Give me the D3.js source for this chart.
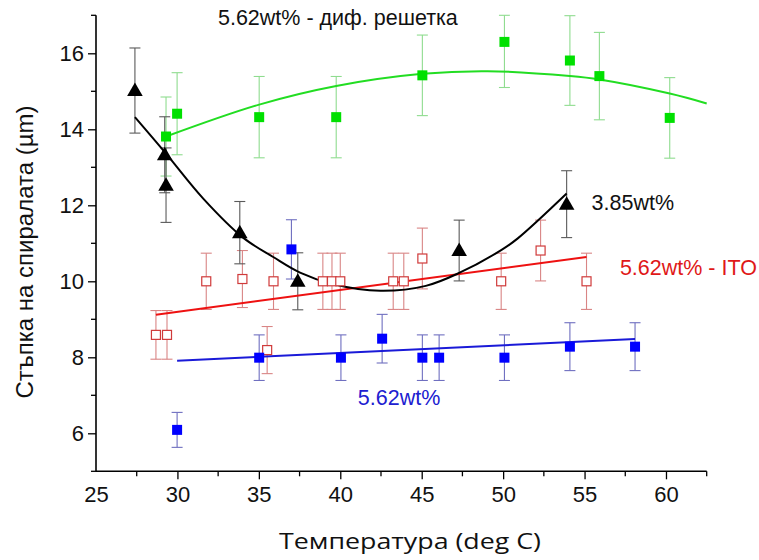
<!DOCTYPE html>
<html><head><meta charset="utf-8">
<script src="https://cdn.jsdelivr.net/npm/d3@7"></script>
<style>body{margin:0;background:#fff}</style>
</head><body>
<svg id="c" width="759" height="560"></svg>
<script>
// Data
const greenX   = [29.3, 29.98, 35.02, 39.75, 45.04, 50.08, 54.1, 55.91, 60.23];
const greenY   = [13.81, 14.41, 14.32, 14.32, 15.42, 16.30, 15.81, 15.40, 14.30];
const greenErr = [1.04, 1.08, 1.07, 1.07, 1.06, 1.2, 1.18, 1.15, 1.06];

const blackX   = [27.39, 29.22, 29.3, 33.83, 37.39, 47.3, 53.9];
const blackY   = [15.02, 13.33, 12.53, 11.28, 10.0, 10.81, 12.03];
const blackErr = [1.12, 1.0, 0.98, 0.82, 0.75, 0.8, 0.88];

const blueX    = [29.98, 35.02, 37.0, 40.04, 42.57, 45.04, 46.07, 50.08, 54.1, 58.1];
const blueY    = [6.09, 7.99, 10.84, 7.99, 8.49, 7.99, 7.99, 7.99, 8.28, 8.28];
const blueErr  = [0.46, 0.6, 0.78, 0.6, 0.64, 0.6, 0.6, 0.6, 0.63, 0.63];

const redX     = [28.68, 29.36, 31.77, 33.99, 35.51, 35.9, 38.93, 39.49, 40.0, 43.25, 43.9, 45.04, 49.88, 52.3, 55.12];
const redY     = [8.59, 8.59, 10.0, 10.06, 8.19, 10.0, 10.0, 10.0, 10.0, 10.0, 10.0, 10.6, 10.0, 10.81, 10.0];
const redErr   = [0.64, 0.64, 0.74, 0.75, 0.62, 0.74, 0.74, 0.74, 0.74, 0.74, 0.74, 0.8, 0.74, 0.8, 0.74];

// Fit curves, points
const blackFit = [[27.39,14.32],[29.3,13.36],[31.6,12.17],[34.03,11.15],[35.88,10.64],[37.53,10.23],[39.59,9.92],[42.47,9.75],[45.25,9.88],[47.3,10.22],[49.88,10.82],[50.9,11.13],[53.9,12.31]];
const greenFit = [[29.3,13.81],[35.02,14.65],[39.75,15.14],[45.04,15.46],[49.05,15.53],[54.1,15.40],[55.91,15.31],[60.23,14.94],[62.5,14.68]];
const redFit   = [[28.68,9.12],[55.12,10.64]];
const blueFit  = [[29.98,7.91],[58.1,8.48]];

const xTicks = [25, 30, 35, 40, 45, 50, 55, 60];
const yTicks = [6, 8, 10, 12, 14, 16];

const labels = [
  {text: "5.62wt% - диф. решетка", x: 32.49, y: 16.74, color: "#111"},
  {text: "3.85wt%", x: 55.43, y: 11.87, color: "#111"},
  {text: "5.62wt% - ITO", x: 57.17, y: 10.17, color: "#e01818"},
  {text: "5.62wt%", x: 41.08, y: 6.75, color: "#2020d0"}
];

const svg = d3.select("#c");
const x = d3.scaleLinear().domain([25, 62.5]).range([96, 706.7]);
const y = d3.scaleLinear().domain([5, 17]).range([471.3, 15.3]);

const font = "'Liberation Sans', Arial, sans-serif";

// Axes
const xAxis = d3.axisBottom(x).tickValues(xTicks).tickSize(8).tickFormat(d3.format("d"));
const gx = svg.append("g").attr("transform", `translate(0,${y(5)})`).call(xAxis);
gx.selectAll(".tick").filter(d => d === 25).select("line").remove();
const xMinor = d3.range(27.5, 62.6, 5);
gx.selectAll(".minor").data(xMinor).enter().append("line")
  .attr("x1", d => x(d)).attr("x2", d => x(d)).attr("y1", 0).attr("y2", 5)
  .attr("stroke", "#000").attr("stroke-width", 1.3);

const yAxis = d3.axisLeft(y).tickValues(yTicks).tickSize(8).tickFormat(d3.format("d"));
const gy = svg.append("g").attr("transform", `translate(${x(25)},0)`).call(yAxis);
const yMinor = [5, 7, 9, 11, 13, 15, 17];
gy.selectAll(".minor").data(yMinor).enter().append("line")
  .attr("x1", -5).attr("x2", 0).attr("y1", d => y(d)).attr("y2", d => y(d))
  .attr("stroke", "#000").attr("stroke-width", 1.3);

[gx, gy].forEach(g => {
  g.selectAll(".tick line").attr("stroke-width", 1.3);
  g.selectAll("text").attr("font-family", font).attr("font-size", 22).attr("fill", "#111");
});
gx.select(".domain").remove();
gy.select(".domain").remove();
svg.append("line").attr("x1", x(25)).attr("x2", x(62.5)).attr("y1", y(5)).attr("y2", y(5))
  .attr("stroke", "#000").attr("stroke-width", 1.6);
svg.append("line").attr("x1", x(25)).attr("x2", x(25)).attr("y1", y(5)).attr("y2", y(17))
  .attr("stroke", "#000").attr("stroke-width", 1.6);
gx.selectAll(".tick text").attr("dy", "0.95em").attr("y", 10);
gy.selectAll(".tick text").attr("x", -12);

// Axis titles
svg.append("text").attr("x", 410).attr("y", 549).attr("text-anchor", "middle")
  .attr("font-family", "'Open Sans', 'Noto Sans', sans-serif").attr("font-size", 22)
  .attr("fill", "#111").attr("textLength", 262).attr("lengthAdjust", "spacingAndGlyphs")
  .text("Температура (deg C)");
svg.append("text").attr("transform", "translate(33,252) rotate(-90)").attr("text-anchor", "middle")
  .attr("font-family", font).attr("font-size", 24).attr("fill", "#111")
  .text("Стъпка на спиралата (µm)");

const plot = svg.append("g");
const cap = 5.5;

function errBars(xs, ys, es, color) {
  const g = plot.append("g").attr("stroke", color).attr("stroke-width", 1.1).attr("fill", "none");
  xs.forEach((xv, i) => {
    const lo = Math.max(5, ys[i] - es[i]), hi = Math.min(17, ys[i] + es[i]);
    g.append("line").attr("x1", x(xv)).attr("x2", x(xv)).attr("y1", y(lo)).attr("y2", y(hi));
    g.append("line").attr("x1", x(xv) - cap).attr("x2", x(xv) + cap).attr("y1", y(lo)).attr("y2", y(lo));
    g.append("line").attr("x1", x(xv) - cap).attr("x2", x(xv) + cap).attr("y1", y(hi)).attr("y2", y(hi));
  });
}
errBars(greenX, greenY, greenErr, "#8fdc8f");
errBars(redX, redY, redErr, "#d98585");
errBars(blackX, blackY, blackErr, "#5a5a5a");
errBars(blueX, blueY, blueErr, "#6f6fc0");

const line = d3.line().x(d => x(d[0])).y(d => y(d[1])).curve(d3.curveCatmullRom.alpha(0.5));
function fit(pts, color) {
  plot.append("path").datum(pts).attr("d", line).attr("fill", "none")
    .attr("stroke", color).attr("stroke-width", 2);
}
fit(greenFit, "#22dd22");
fit(redFit, "#ee1111");
fit(blackFit, "#000");
fit(blueFit, "#1a1ad8");

function squares(xs, ys, fill, stroke, s) {
  plot.append("g").selectAll("rect").data(xs).enter().append("rect")
    .attr("x", (d, i) => x(d) - s / 2).attr("y", (d, i) => y(ys[i]) - s / 2)
    .attr("width", s).attr("height", s).attr("fill", fill)
    .attr("stroke", stroke).attr("stroke-width", stroke === "none" ? 0 : 1.2);
}
squares(greenX, greenY, "#00e000", "none", 10);
squares(redX, redY, "#fff", "#d03a3a", 9);
const tri = d3.symbol().type(d3.symbolTriangle).size(105);
plot.append("g").selectAll("path").data(blackX).enter().append("path")
  .attr("d", tri).attr("transform", (d, i) => `translate(${x(d)},${y(blackY[i]) + 1})`)
  .attr("fill", "#000");
squares(blueX, blueY, "#0000ff", "none", 10);

// Series labels
svg.append("g").selectAll("text").data(labels).enter().append("text")
  .attr("x", d => x(d.x)).attr("y", d => y(d.y))
  .attr("font-family", font).attr("font-size", 21.5)
  .attr("fill", d => d.color).text(d => d.text);
</script>
</body></html>
